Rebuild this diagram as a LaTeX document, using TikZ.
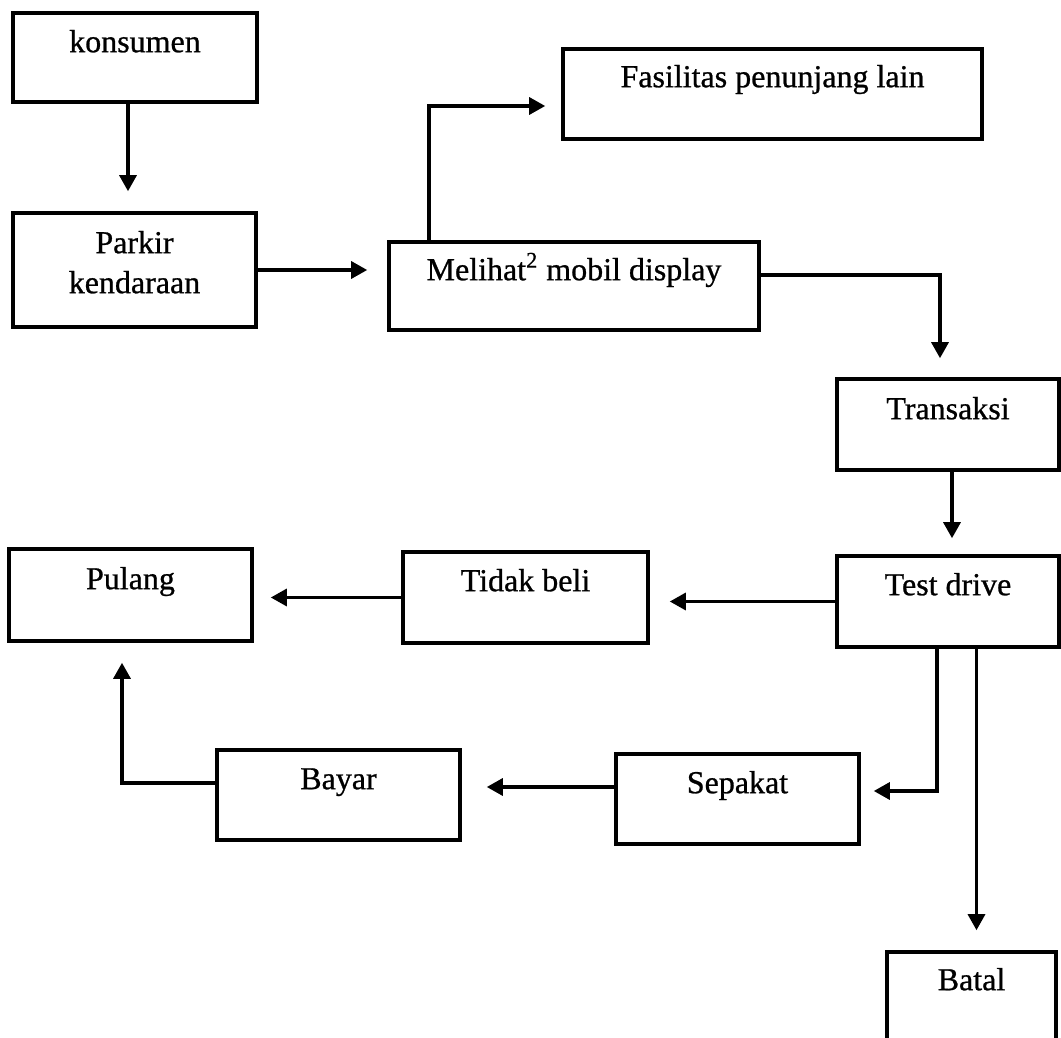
\documentclass[tikz,border=0pt]{standalone}
\usepackage{fontspec}
\setmainfont{Liberation Serif}[FakeBold=0.8]
\usetikzlibrary{arrows.meta,calc}
\begin{document}
\begin{tikzpicture}[x=0.5pt,y=-0.5pt,
  box/.style 2 args={draw, line width=1.8pt, inner sep=0pt,
    minimum width=#1, minimum height=#2},
  txt/.style={anchor=base, inner sep=0pt,
    font=\fontsize{16pt}{20pt}\selectfont},
  arr/.style={line width=1.6pt, -{Triangle[length=8pt,width=8.5pt]}}]

\clip (0,0) rectangle (1061,1038);

% process boxes
\node[box={122pt}{44.5pt}]   (konsumen)  at (135,57.5)   {};
\node[box={121.5pt}{57pt}]   (parkir)    at (134.5,270)  {};
\node[box={185pt}{44pt}]     (melihat)   at (574,286)    {};
\node[box={209.5pt}{45pt}]   (fasilitas) at (772.5,94)   {};
\node[box={111pt}{45.5pt}]   (transaksi) at (948,424.5)  {};
\node[box={111pt}{45.5pt}]   (testdrive) at (948,601.5)  {};
\node[box={122.5pt}{45.5pt}] (tidakbeli) at (525.5,597.5) {};
\node[box={121.5pt}{46pt}]   (pulang)    at (130.5,595)  {};
\node[box={121.5pt}{45pt}]   (bayar)     at (338.5,795)  {};
\node[box={121.5pt}{45pt}]   (sepakat)   at (737.5,799)  {};
\node[box={84.5pt}{74pt}]    (batal)     at (971.5,1026) {};

% labels, set near the top of each box
\node[txt] (konsumen-t)  at ([yshift=-20.5pt]konsumen.north)  {konsumen};
\node[txt] (parkir-t1)   at ([yshift=-21pt]parkir.north)      {Parkir};
\node[txt] (parkir-t2)   at ([yshift=-41pt]parkir.north)      {kendaraan};
\node[txt] (melihat-t)   at ([yshift=-20pt]melihat.north)     {Melihat\textsuperscript{2} mobil display};
\node[txt] (fasilitas-t) at ([yshift=-20pt]fasilitas.north)   {Fasilitas penunjang lain};
\node[txt] (transaksi-t) at ([yshift=-21pt]transaksi.north)   {Transaksi};
\node[txt] (testdrive-t) at ([yshift=-20.5pt]testdrive.north) {Test drive};
\node[txt] (tidakbeli-t) at ([yshift=-20.5pt]tidakbeli.north) {Tidak beli};
\node[txt] (pulang-t)    at ([yshift=-21pt]pulang.north)      {Pulang};
\node[txt] (bayar-t)     at ([yshift=-20.5pt]bayar.north)     {Bayar};
\node[txt] (sepakat-t)   at ([yshift=-20.5pt]sepakat.north)   {Sepakat};
\node[txt] (batal-t)     at ([yshift=-20pt]batal.north)       {Batal};

% arrow ends
\coordinate (melihat-in) at ($(melihat.west |- parkir.east)+(-10pt,0)$);
\coordinate (fas-up)     at ($(melihat.north)+(-72.5pt,0)$);
\coordinate (fas-in)     at ($(fasilitas.west)+(-8pt,-6pt)$);
\coordinate (batal-in)   at ($(batal.north)+(2.5pt,10pt)$);
\coordinate (bayar-in)   at ($(bayar.east |- sepakat.west)+(12.5pt,6pt)$);
\coordinate (tidak-in)   at ($(tidakbeli.east |- testdrive.west)+(10pt,0)$);
\coordinate (pulang-in)  at ($(pulang.east |- tidakbeli.west)+(8.5pt,0)$);

% connectors
\draw[arr] ([xshift=-3.5pt]konsumen.south) -- ([xshift=-3.25pt,yshift=10pt]parkir.north);
\draw[arr] (parkir.east) -- (melihat-in);
\draw[arr] (fas-up) |- (fas-in);
\draw[arr] ([yshift=5.5pt]melihat.east) -| ([xshift=-4pt,yshift=9.5pt]transaksi.north);
\draw[arr] ([xshift=2pt]transaksi.south) -- ([xshift=2pt,yshift=8pt]testdrive.north);
\draw[arr] (testdrive.west) -- (tidak-in);
\draw[arr] (tidakbeli.west) -- (pulang-in);
\draw[arr] ([xshift=-5.5pt]testdrive.south) |- ([xshift=6.5pt,yshift=4pt]sepakat.east);
\draw[arr] (batal-in |- testdrive.south) -- (batal-in);
\draw[arr] (bayar-in -| sepakat.west) -- (bayar-in);
\draw[arr] ([yshift=6pt]bayar.west) -| ([xshift=-4.25pt,yshift=-10pt]pulang.south);

\end{tikzpicture}
\end{document}
